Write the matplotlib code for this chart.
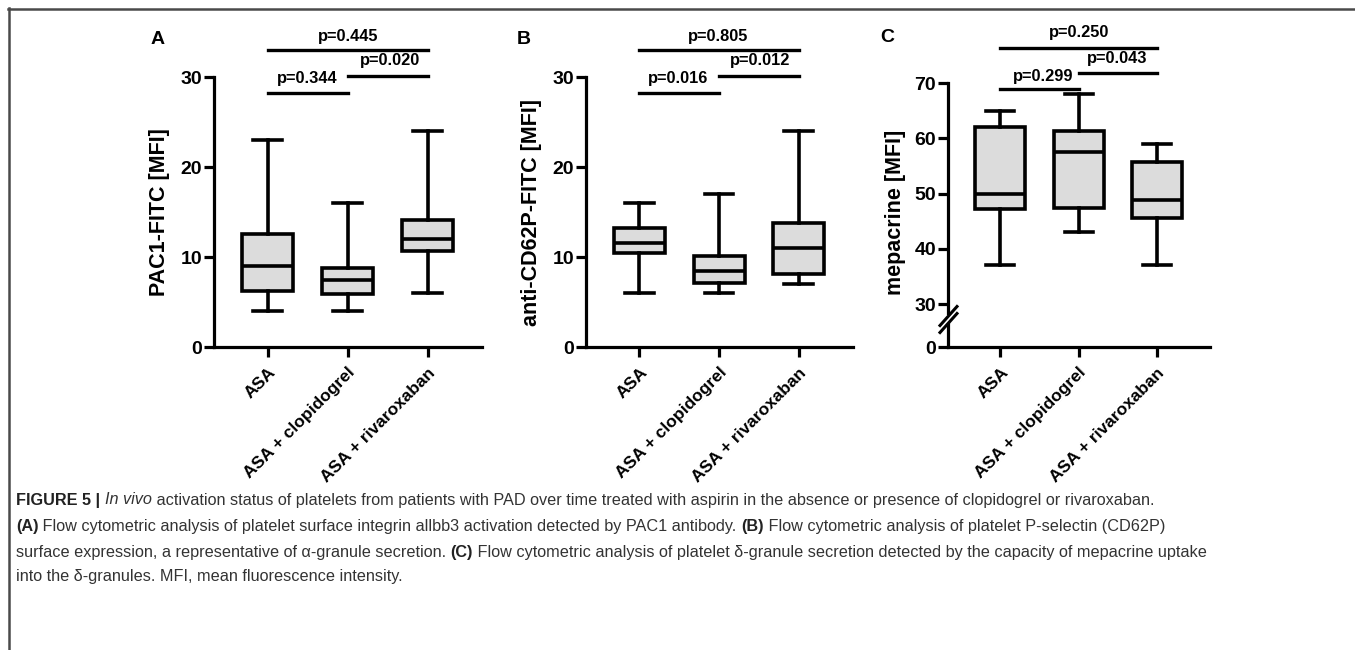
import numpy as np
import matplotlib
matplotlib.use("Agg")
import matplotlib.pyplot as plt
from matplotlib.lines import Line2D
from matplotlib.scale import FuncScale
from matplotlib import font_manager

# ---------------- data ----------------
groups = ["ASA", "ASA + clopidogrel", "ASA + rivaroxaban"]

A_lo = [4.0, 4.0, 6.0]
A_q1 = [6.2, 5.9, 10.7]
A_med = [9.0, 7.5, 12.0]
A_q3 = [12.6, 8.8, 14.1]
A_hi = [23.0, 16.0, 24.0]

B_lo = [6.0, 6.0, 7.0]
B_q1 = [10.4, 7.1, 8.1]
B_med = [11.6, 8.5, 11.0]
B_q3 = [13.2, 10.1, 13.8]
B_hi = [16.0, 17.0, 24.0]

C_lo = [37.0, 43.0, 37.0]
C_q1 = [47.2, 47.4, 45.6]
C_med = [50.0, 57.6, 48.9]
C_q3 = [62.0, 61.4, 55.7]
C_hi = [65.0, 68.0, 59.0]

A_p = ["p=0.344", "p=0.020", "p=0.445"]   # ASA-clop, clop-riva, ASA-riva
B_p = ["p=0.016", "p=0.012", "p=0.805"]
C_p = ["p=0.299", "p=0.043", "p=0.250"]

A_ticks = [0, 10, 20, 30]
B_ticks = [0, 10, 20, 30]
C_ticks = [0, 30, 40, 50, 60, 70]

ylabels = ["PAC1-FITC [MFI]", "anti-CD62P-FITC [MFI]", "mepacrine [MFI]"]
panel_letters = ["A", "B", "C"]

# ---------------- figure ----------------
W, H = 1355, 650
fig = plt.figure(figsize=(W / 100, H / 100), dpi=100)
fig.patch.set_facecolor("white")

BOLD = dict(family=["Liberation Sans", "DejaVu Sans"], weight="bold")


def fx(px):
    return px / W


def fy(py):
    return 1 - py / H


# gray frame (top and left edges)
fig.add_artist(Line2D([fx(8), 1.0], [fy(8.5), fy(8.5)], color="#4a4a4a", lw=1.8,
                      transform=fig.transFigure))
fig.add_artist(Line2D([fx(8.5), fx(8.5)], [fy(8), 0.0], color="#4a4a4a", lw=1.8,
                      transform=fig.transFigure))

# axes placement (pixels): left, right, top, bottom
layout = [(214, 482, 77, 347), (586, 853, 77, 347), (948, 1210, 83, 347)]
axes = []
for (l, r, t, b) in layout:
    ax = fig.add_axes([fx(l), fy(b), fx(r - l), (b - t) / H])
    axes.append(ax)

# broken axis for panel C
KC = 0.2594


def c_fwd(y):
    y = np.asarray(y, dtype=float)
    return np.where(y >= 30, y, 30 - (30 - y) * KC)


def c_inv(y):
    y = np.asarray(y, dtype=float)
    return np.where(y >= 30, y, 30 - (30 - y) / KC)


axes[2].set_yscale(FuncScale(axes[2], (c_fwd, c_inv)))

datasets = [
    (A_lo, A_q1, A_med, A_q3, A_hi, A_p, A_ticks, (0, 30)),
    (B_lo, B_q1, B_med, B_q3, B_hi, B_p, B_ticks, (0, 30)),
    (C_lo, C_q1, C_med, C_q3, C_hi, C_p, C_ticks, (0, 70)),
]

LW = 2.6
pos = np.arange(len(groups))

brk = [
    dict(b1=93, b2=76, b3=50, l1=(307, 79), l2=(390, 61), l3=(348, 37)),
    dict(b1=93, b2=76, b3=50, l1=(678, 79), l2=(760, 61), l3=(718, 37)),
    dict(b1=89, b2=73, b3=48, l1=(1043, 76), l2=(1117, 59), l3=(1079, 33)),
]
letters_px = [(158, 40), (524, 40), (887, 38)]
ylab_x = [160, 532, 895]

for i, (ax, d) in enumerate(zip(axes, datasets)):
    lo, q1, med, q3, hi, pv, ticks, ylim = d
    stats = []
    for j in range(len(groups)):
        stats.append(dict(whislo=lo[j], q1=q1[j], med=med[j], q3=q3[j],
                          whishi=hi[j], fliers=[], label=groups[j]))
    ax.bxp(stats, positions=pos, widths=0.64, patch_artist=True,
           showfliers=False,
           boxprops=dict(facecolor="#dcdcdc", edgecolor="black", linewidth=LW),
           medianprops=dict(color="black", linewidth=LW),
           whiskerprops=dict(color="black", linewidth=LW),
           capprops=dict(color="black", linewidth=LW),
           capwidths=0.36)
    ax.set_xlim(-0.67, 2.68)
    ax.set_ylim(*ylim)
    ax.set_yticks(ticks)
    ax.set_yticklabels([str(t) for t in ticks], fontsize=14, **BOLD)
    ax.set_xticks(pos)
    ax.set_xticklabels(groups, rotation=45, ha="right", va="top",
                       rotation_mode="anchor", fontsize=12.5, **BOLD)
    for s in ["top", "right"]:
        ax.spines[s].set_visible(False)
    for s in ["left", "bottom"]:
        ax.spines[s].set_linewidth(2.3)
    ax.tick_params(axis="both", width=2.3, length=7, direction="out",
                   colors="black", pad=1.5)
    ax.tick_params(axis="x", pad=6)
    ax.set_facecolor("none")

    fig.text(fx(ylab_x[i]), fy(212), ylabels[i], rotation=90, ha="center",
             va="center", fontsize=15.5, **BOLD)
    fig.text(fx(letters_px[i][0]), fy(letters_px[i][1]), panel_letters[i],
             ha="center", va="center", fontsize=14, **BOLD)

    trans = matplotlib.transforms.blended_transform_factory(ax.transData, fig.transFigure)
    g = brk[i]
    for (x0, x1, yb) in [(pos[0], pos[1], g["b1"]), (pos[1], pos[2], g["b2"]),
                         (pos[0], pos[2], g["b3"])]:
        ax.add_line(Line2D([x0, x1], [fy(yb), fy(yb)], color="black", lw=2.4,
                           transform=trans, clip_on=False))
    for k, key in enumerate(["l1", "l2", "l3"]):
        lx, ly = g[key]
        fig.text(fx(lx), fy(ly), pv[k], ha="center", va="center",
                 fontsize=11.8, **BOLD)

# break marks on panel C y-axis
tb = fig.transFigure
fig.add_artist(matplotlib.patches.Polygon(
    [(fx(945), fy(323)), (fx(951), fy(323)), (fx(951), fy(315)), (fx(945), fy(315))],
    closed=True, facecolor="white", edgecolor="none", transform=tb, zorder=5))
for dy in (-3.5, 3.5):
    fig.add_artist(Line2D([fx(940), fx(957)], [fy(329 + dy), fy(310 + dy)], color="black",
                          lw=2.2, transform=tb, zorder=6))

# ---------------- caption ----------------
names = {f.name for f in font_manager.fontManager.ttflist}
CAP_FAM = [f for f in ["Liberation Sans Narrow", "Liberation Sans"] if f in names] + ["DejaVu Sans"]
cap_color = "#333333"
caption_lines = [
    [("FIGURE 5 | ", "bold", "normal"), ("In vivo", "normal", "italic"),
     (" activation status of platelets from patients with PAD over time treated with aspirin in the absence or presence of clopidogrel or rivaroxaban.", "normal", "normal")],
    [("(A)", "bold", "normal"),
     (" Flow cytometric analysis of platelet surface integrin allbb3 activation detected by PAC1 antibody. ", "normal", "normal"),
     ("(B)", "bold", "normal"),
     (" Flow cytometric analysis of platelet P-selectin (CD62P)", "normal", "normal")],
    [("surface expression, a representative of \u03b1-granule secretion. ", "normal", "normal"),
     ("(C)", "bold", "normal"),
     (" Flow cytometric analysis of platelet \u03b4-granule secretion detected by the capacity of mepacrine uptake", "normal", "normal")],
    [("into the \u03b4-granules. MFI, mean fluorescence intensity.", "normal", "normal")],
]

line_y = [500, 526, 552, 577]
cap_fs = 13.0
renderer = fig.canvas.get_renderer()


def draw_line(parts, y, fs):
    x = 16.0
    arts = []
    for txt, wt, st in parts:
        t = fig.text(fx(x), fy(y), txt, ha="left", va="center", fontsize=fs,
                     family=CAP_FAM, weight=wt, style=st,
                     color=("#222222" if wt == "bold" else cap_color))
        bb = t.get_window_extent(renderer=renderer)
        x += bb.width
        arts.append(t)
    return x, arts


end, arts = draw_line(caption_lines[0], line_y[0], cap_fs)
for a in arts:
    a.remove()
target = 1150
cap_fs = cap_fs * (target - 16) / (end - 16)
for parts, y in zip(caption_lines, line_y):
    draw_line(parts, y, cap_fs)

fig.savefig("out.png", dpi=100, facecolor="white")
